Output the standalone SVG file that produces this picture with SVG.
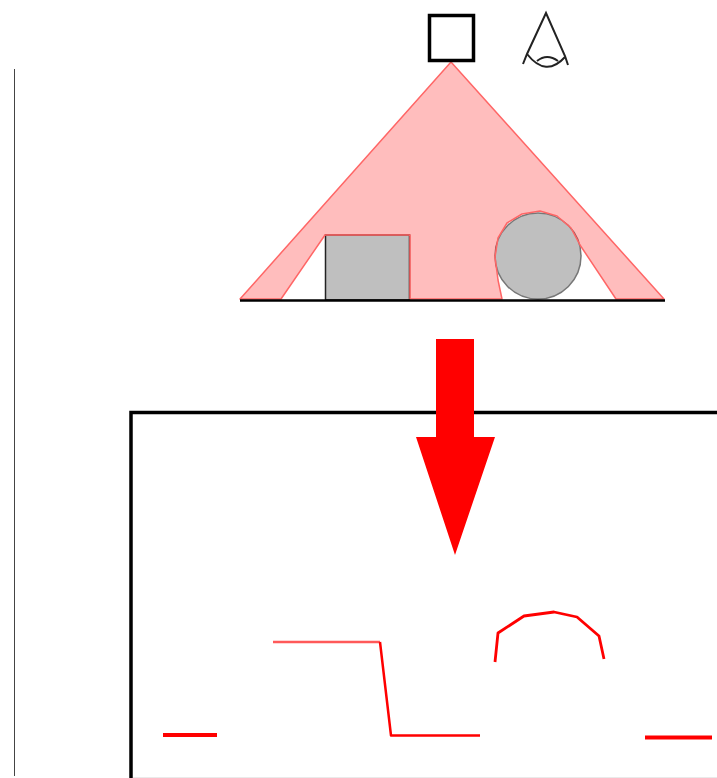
<svg xmlns="http://www.w3.org/2000/svg" width="717" height="778" viewBox="0 0 717 778">
<style>
.o{fill:none;stroke:#000;stroke-linejoin:miter}
.g{fill:#bfbfbf}
.r{fill:none;stroke:#f00;stroke-linejoin:round}
</style>
<rect width="717" height="778" fill="#fff"/>
<g id="left-rule"><line x1="14.500" y1="69" x2="14.500" y2="776" stroke="#444" stroke-width="1"/></g>
<g id="box-object"><rect class="g" x="325.500" y="235" width="84" height="65" stroke="#222" stroke-width="1.500"/></g>
<g id="circle-object"><circle class="g" cx="538" cy="256" r="43" stroke="#777" stroke-width="1.500"/></g>
<g id="light-cone"><path d="M451 62L664 299H616L580 245L571 228L557 216L540 211L522 214L507 223L498 238L495 257L498 280L502 299H410V235H325L281 299H240Z" fill="#f00" fill-opacity=".26" stroke="#f66" stroke-width="1.500" stroke-linejoin="round"/></g>
<g id="ground"><line x1="240" y1="300.500" x2="665" y2="300.500" stroke="#000" stroke-width="2.500"/></g>
<g id="light-source"><rect x="429.500" y="15.500" width="44" height="45" class="o" stroke-width="3.500"/></g>
<g id="eye" fill="none" stroke="#222" stroke-width="2"><path d="M523 64L527 54L546 13L565 56L568 65"/><path d="M527 54Q546 78 565 57"/><path d="M537 61Q547 53 558 61"/></g>
<g id="screen"><path d="M131 778V412.500H717" class="o" stroke-width="3.500"/><line x1="133" y1="777.500" x2="717" y2="777.500" stroke="#eaeaea" stroke-width="1"/></g>
<g id="projection"><path d="M163 735H217" class="r" stroke-width="4"/><path d="M273 642H380" class="r" stroke-width="2.500" stroke-opacity=".65"/><path d="M380 642L391 735.500H480" class="r" stroke-width="2.500"/><path d="M495 662L498 633L524 616L554 612L577 617L599 636L604 659" class="r" stroke-width="2.800"/><path d="M645 737.500H712" class="r" stroke-width="4"/></g>
<g id="connectors"><path id="down-arrow" d="M436 339H474V437H495L455 555L416 437H436Z" fill="#f00"/></g>
</svg>
